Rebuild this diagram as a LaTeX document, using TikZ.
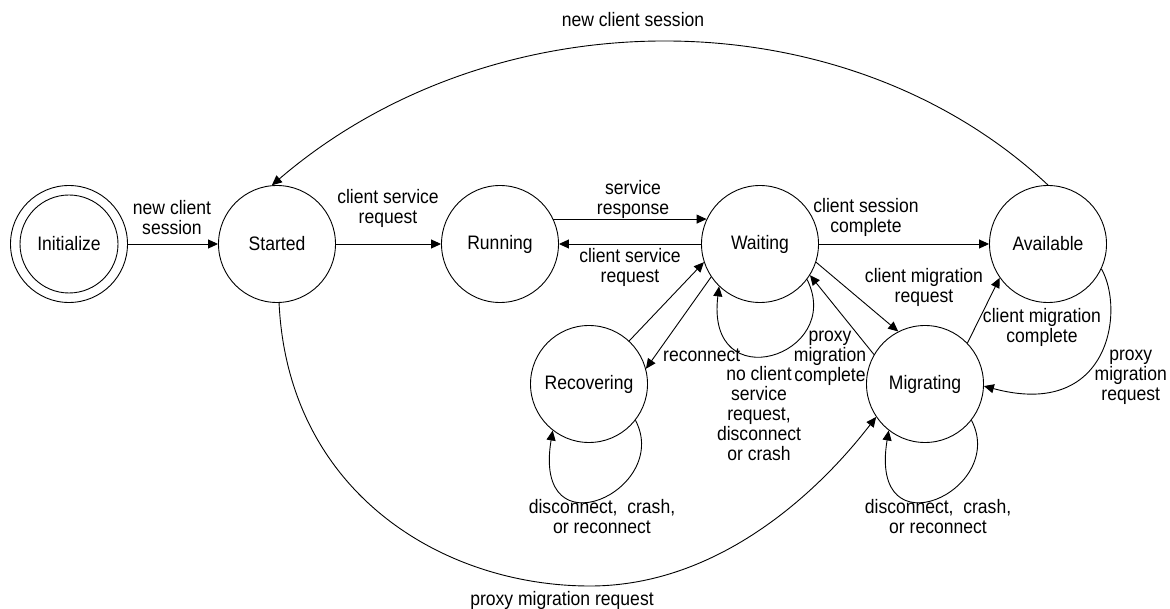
\documentclass[tikz,border=0pt]{standalone}
\usepackage{fontspec}
\setmainfont{Liberation Sans}[FakeStretch=0.9]
\usetikzlibrary{arrows.meta}
\begin{document}
\begin{tikzpicture}[x=1pt,y=-1pt,
  state/.style={circle,draw,line width=0.9pt,minimum size=117pt,inner sep=0pt,
    font=\fontsize{19.5}{20}\selectfont},
  lbl/.style={align=center,inner sep=0pt,font=\fontsize{19.5}{20}\selectfont},
  trans/.style={draw,line width=0.9pt,-{Triangle[length=10pt,width=9pt]}},
]
\useasboundingbox (0,0) rectangle (1170,609);

% states
\node[state] (init) at (69,244) {Initialize};
\node[circle,draw,line width=0.9pt,minimum size=98pt,inner sep=0pt] (initIn) at (init) {};
\node[state] (started) at (277,244) {Started};
\node[state] (running) at (500,244) {Running};
\node[state] (waiting) at (760,244) {Waiting};
\node[state] (avail) at (1048,244) {Available};
\node[state] (recov) at (589,384) {Recovering};
\node[state] (migr) at (925,384) {Migrating};

% main row
\draw[trans] (init) -- (started);
\node[lbl] at (172,218) {new client\\session};
\draw[trans] (started) -- (running);
\node[lbl] at (388,208) {client service\\request};
\draw[trans] (running.25) -- (waiting.155);
\node[lbl] at (633,199) {service\\response};
\draw[trans] (waiting) -- (running);
\node[lbl] at (630,267) {client service\\request};
\draw[trans] (waiting) -- (avail);
\node[lbl] at (866,217) {client session\\complete};

% migration
\draw[trans] (waiting.-18) -- (migr.117);
\node[lbl] at (924,287) {client migration\\request};
\draw[trans] (migr.150) -- (waiting.-32);
\node[lbl] at (830,358) {proxy\\migration\\complete};
\draw[trans] (migr.44) -- (avail.-145);
\node[lbl] at (1042,327) {client migration\\complete};
\draw[trans] (avail.-25) .. controls (1125,310) and (1110,420) .. (migr.-2);
\node[lbl,anchor=east] at (1167,377) {proxy\\migration\\request};

% waiting self loop
\draw[trans] (waiting.-37) .. controls (845,356) and (705,400) .. (waiting.-134);
\node[lbl] at (759,414) {no client\\service\\request,\\disconnect\\or crash};

% recovery
\draw[trans] (waiting.-146) -- (recov.15);
\node[lbl,anchor=west] at (663,355) {reconnect};
\draw[trans] (recov.47) -- (waiting.-162);
\draw[trans] (recov.-38) .. controls (672,490) and (532,555) .. (recov.-128);
\node[lbl] at (602,517) {disconnect,\ \ crash,\\or reconnect};
\draw[trans] (migr.-38) .. controls (1008,490) and (868,555) .. (migr.-128);
\node[lbl] at (938,517) {disconnect,\ \ crash,\\or reconnect};

% long arcs
\draw[trans] (avail.north) .. controls (844,-6) and (495,-6) .. (started.95);
\node[lbl] at (633,20) {new client session};
\coordinate (pmrLow) at (590,586);
\draw[trans] (started.-88) .. controls (288,492) and (442,586) .. (pmrLow)
  .. controls (720,586) and (820,490) .. (migr.-146);
\node[lbl] at (562,600) {proxy migration request};
\end{tikzpicture}
\end{document}
